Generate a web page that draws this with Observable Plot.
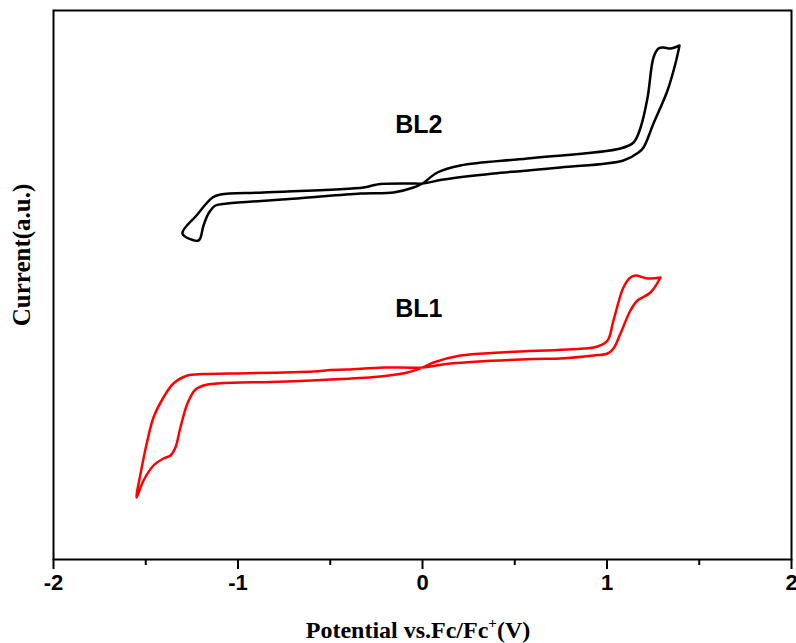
<!DOCTYPE html>
<html>
<head>
<meta charset="utf-8">
<script src="https://cdn.jsdelivr.net/npm/d3@7"></script>
<script src="https://cdn.jsdelivr.net/npm/@observablehq/plot@0.6"></script>
<style>
  body { margin: 0; background: #fff; }
  #chart svg { display: block; }
</style>
</head>
<body>
<div id="chart"></div>
<script>
// Potential (V vs Fc/Fc+) and current (arbitrary units), traced as closed CV loops
const bl2V = [1.393, 1.371, 1.328, 1.252, 1.198, 1.171, 1.089, 0.748, 0.385, 0.114, 0.000, -0.065, -0.228, -0.271, -0.320, -0.862, -1.095, -1.138, -1.225, -1.301, -1.214, -1.187, -1.160, -1.122, -1.057, -0.678, -0.336, -0.157, -0.049, 0.000, 0.081, 0.206, 0.569, 1.073, 1.144, 1.182, 1.220, 1.252, 1.279, 1.306, 1.344, 1.393];
const bl2I = [514, 496, 469, 436, 412, 407, 399, 392, 386, 380, 376, 376, 375.5, 374, 372, 367, 365, 362, 344, 326, 319, 334, 346, 354, 356, 361, 366, 367, 372, 376, 387, 394, 401, 411, 417, 432, 462, 502, 511, 512, 511, 514];

const bl1V = [1.290, 1.236, 1.165, 1.127, 1.073, 1.035, 1.003, 0.927, 0.748, 0.602, 0.152, 0.000, -0.211, -0.407, -0.499, -0.591, -1.041, -1.187, -1.274, -1.350, -1.404, -1.458, -1.491, -1.528, -1.550, -1.512, -1.458, -1.404, -1.366, -1.339, -1.312, -1.274, -1.230, -1.165, -0.986, -0.862, -0.499, -0.228, -0.081, 0.000, 0.060, 0.206, 0.423, 0.873, 0.949, 1.003, 1.035, 1.089, 1.127, 1.154, 1.220, 1.290];
const bl1I = [282, 267, 259, 249, 226, 211, 206, 204, 201, 200.5, 196, 192, 192, 190, 189.5, 188, 186, 185.5, 184, 176, 162, 142, 119, 86, 62, 79, 94, 101, 104, 112, 132, 156, 170, 175, 177, 177.3, 180, 183, 187, 192, 197, 204, 207, 211, 213, 219, 239, 272, 282, 284, 281, 282];

const majorTicks = [-2, -1, 0, 1, 2];
const minorTicks = [-1.5, -0.5, 0.5, 1.5];
const seriesLabels = [
  {name: "BL2", v: -0.02, i: 435},
  {name: "BL1", v: -0.02, i: 251}
];

const bl2 = bl2V.map((v, k) => ({v, i: bl2I[k]}));
const bl1 = bl1V.map((v, k) => ({v, i: bl1I[k]}));

const plot = Plot.plot({
  width: 796,
  height: 643,
  marginLeft: 53,
  marginRight: 5,
  marginTop: 10,
  marginBottom: 84,
  style: {background: "#fff", overflow: "visible"},
  x: {domain: [-2, 2], label: null},
  y: {domain: [0, 549], axis: null},
  marks: [
    Plot.frame({stroke: "#000", strokeWidth: 2}),
    Plot.axisX({ticks: majorTicks, tickSize: 10, tickFormat: d => d, tickPadding: 5,
      fontSize: 22, fontWeight: "bold", fontFamily: "Liberation Sans, Arial, sans-serif",
      strokeWidth: 2, label: null}),
    Plot.axisX({ticks: minorTicks, tickSize: 6, tickFormat: () => "", strokeWidth: 2, label: null}),
    Plot.line(bl2, {x: "v", y: "i", stroke: "#000", strokeWidth: 2.5, curve: "catmull-rom"}),
    Plot.line(bl1, {x: "v", y: "i", stroke: "#ff0000", strokeWidth: 2.5, curve: "catmull-rom"}),
    Plot.text(seriesLabels, {x: "v", y: "i", text: "name", fontSize: 25, fontWeight: "bold",
      fontFamily: "Liberation Sans, Arial, sans-serif", fill: "#000"})
  ]
});

const svg = d3.select(plot);
const xl = svg.append("text")
  .attr("x", 418).attr("y", 638)
  .attr("text-anchor", "middle")
  .attr("font-family", "Liberation Serif, Times New Roman, serif")
  .attr("font-weight", "bold").attr("font-size", 24).attr("fill", "#000");
xl.append("tspan").text("Potential vs.Fc/Fc");
xl.append("tspan").attr("dy", -10).attr("font-size", 15).text("+");
xl.append("tspan").attr("dy", 10).text("(V)");

svg.append("text")
  .attr("transform", "translate(30,255) rotate(-90)")
  .attr("text-anchor", "middle")
  .attr("font-family", "Liberation Serif, Times New Roman, serif")
  .attr("font-weight", "bold").attr("font-size", 25).attr("fill", "#000")
  .text("Current(a.u.)");

document.getElementById("chart").appendChild(plot);
</script>
</body>
</html>
